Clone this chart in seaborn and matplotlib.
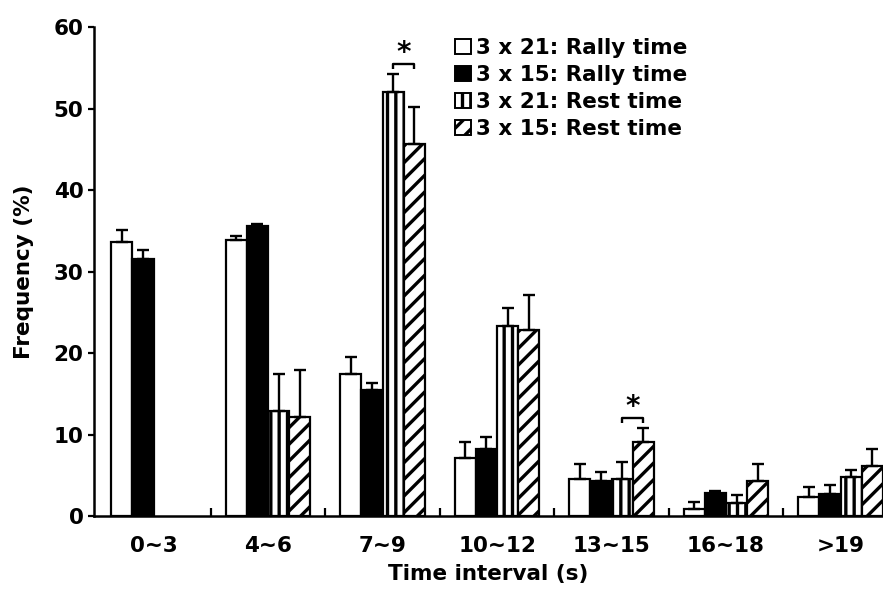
import numpy as np
import pandas as pd
import matplotlib
matplotlib.use("Agg")
import matplotlib.pyplot as plt
import seaborn as sns
from matplotlib.patches import Patch
from matplotlib.container import BarContainer
from matplotlib.ticker import FixedLocator

# ---- data ----
intervals = ["0~3", "4~6", "7~9", "10~12", "13~15", "16~18", ">19"]
series = ["3 x 21: Rally time", "3 x 15: Rally time", "3 x 21: Rest time", "3 x 15: Rest time"]
rally21 = [33.7, 33.9, 17.5, 7.2, 4.6, 0.9, 2.4]
rally15 = [31.6, 35.6, 15.5, 8.3, 4.4, 2.9, 2.7]
rest21 = [np.nan, 12.9, 52.0, 23.4, 4.6, 1.7, 4.8]
rest15 = [np.nan, 12.2, 45.6, 22.8, 9.1, 4.3, 6.2]
rally21_err = [1.4, 0.5, 2.1, 1.9, 1.8, 0.9, 1.2]
rally15_err = [1.1, 0.2, 0.9, 1.5, 1.1, 0.2, 1.1]
rest21_err = [np.nan, 4.6, 2.3, 2.2, 2.1, 0.9, 0.9]
rest15_err = [np.nan, 5.7, 4.6, 4.3, 1.8, 2.1, 2.1]
significant = ["7~9", "13~15"]  # rest-time comparisons marked with *

values = [rally21, rally15, rest21, rest15]
errors = [rally21_err, rally15_err, rest21_err, rest15_err]

df = pd.DataFrame({
    "interval": np.tile(intervals, len(series)),
    "series": np.repeat(series, len(intervals)),
    "freq": np.concatenate(values),
})

# ---- style ----
sns.set_style("ticks")
plt.rcParams["font.family"] = ["DejaVu Sans"]
plt.rcParams["font.weight"] = "bold"
for key in ["text.color", "axes.labelcolor", "xtick.color", "ytick.color",
            "axes.edgecolor", "xtick.labelcolor", "ytick.labelcolor"]:
    plt.rcParams[key] = "black"
plt.rcParams["hatch.linewidth"] = 2.4
plt.rcParams["hatch.color"] = "black"
FS = 15.5

fig = plt.figure(figsize=(8.83, 5.94), dpi=100)
ax = fig.add_axes([0.1065, 0.1305, 0.8935, 0.824])

fills = ["white", "black", "white", "white"]
hatches = ["", "", "||", "//"]

sns.barplot(data=df, x="interval", y="freq", hue="series", order=intervals,
            hue_order=series, palette=fills, saturation=1, width=0.74, gap=0,
            edgecolor="black", linewidth=1.6, errorbar=None, legend=False, ax=ax)

bar_conts = [c for c in ax.containers if isinstance(c, BarContainer)]
bars_by = {}  # (series index, group index) -> rect
for h, cont in enumerate(bar_conts):
    for rect in cont:
        if rect is None:
            continue
        rect.set_hatch(hatches[h])
        rect.set_edgecolor("black")
        xc = rect.get_x() + rect.get_width() / 2
        g = int(round(xc))
        bars_by[(h, g)] = rect

for (h, g), rect in bars_by.items():
    e = errors[h][g]
    if np.isnan(e) or np.isnan(rect.get_height()):
        continue
    xc = rect.get_x() + rect.get_width() / 2
    ax.errorbar(xc, rect.get_height(), yerr=[[0], [e]], fmt="none",
                ecolor="black", elinewidth=1.7, capsize=4.3, capthick=1.7,
                zorder=1)

# significance brackets between the two rest-time bars
for name in significant:
    g = intervals.index(name)
    xs, tops = [], []
    for k in (2, 3):
        rect = bars_by[(k, g)]
        xs.append(rect.get_x() + rect.get_width() / 2)
        tops.append(rect.get_height() + errors[k][g])
    yb = max(tops) + 1.2
    ax.plot([xs[0], xs[0], xs[1], xs[1]], [yb - 0.6, yb, yb, yb - 0.6],
            color="black", lw=1.7, solid_capstyle="butt")
    ax.text((xs[0] + xs[1]) / 2, yb - 0.4, "*", ha="center", va="bottom",
            fontsize=20, fontweight="bold", color="black")

# axes
ax.set_ylim(0, 60)
ax.set_xlim(-0.52, 6.371)
ax.set_yticks(np.arange(0, 61, 10))
ax.tick_params(axis="y", direction="out", length=4.5, width=1.6, labelsize=FS, pad=3,
               color="black", labelcolor="black")
ax.tick_params(axis="x", which="major", length=0, labelsize=FS, pad=14,
               labelcolor="black")
ax.xaxis.set_minor_locator(FixedLocator(np.arange(0.5, len(intervals) - 1, 1.0)))
ax.tick_params(axis="x", which="minor", direction="in", length=5.5, width=1.6,
               color="black")
for lab in ax.get_xticklabels() + ax.get_yticklabels():
    lab.set_fontweight("bold")
sns.despine(ax=ax)
ax.spines["left"].set_linewidth(1.8)
ax.spines["bottom"].set_linewidth(1.8)
ax.spines["left"].set_color("black")
ax.spines["bottom"].set_color("black")

ax.set_xlabel("Time interval (s)", fontsize=FS, fontweight="bold", labelpad=6,
              color="black")
ax.set_ylabel("Frequency (%)", fontsize=FS, fontweight="bold", labelpad=14,
              color="black")

handles = [Patch(facecolor=fills[i], edgecolor="black", hatch=hatches[i],
                 linewidth=1.4) for i in range(len(series))]
leg = ax.legend(handles, series, loc="upper left", bbox_to_anchor=(0.439, 1.008),
                frameon=False, handlelength=0.7, handleheight=0.7,
                handletextpad=0.25, labelspacing=0.33, borderpad=0.2,
                prop={"weight": "bold", "size": FS})
for t in leg.get_texts():
    t.set_color("black")

fig.savefig("out.png", dpi=100)
